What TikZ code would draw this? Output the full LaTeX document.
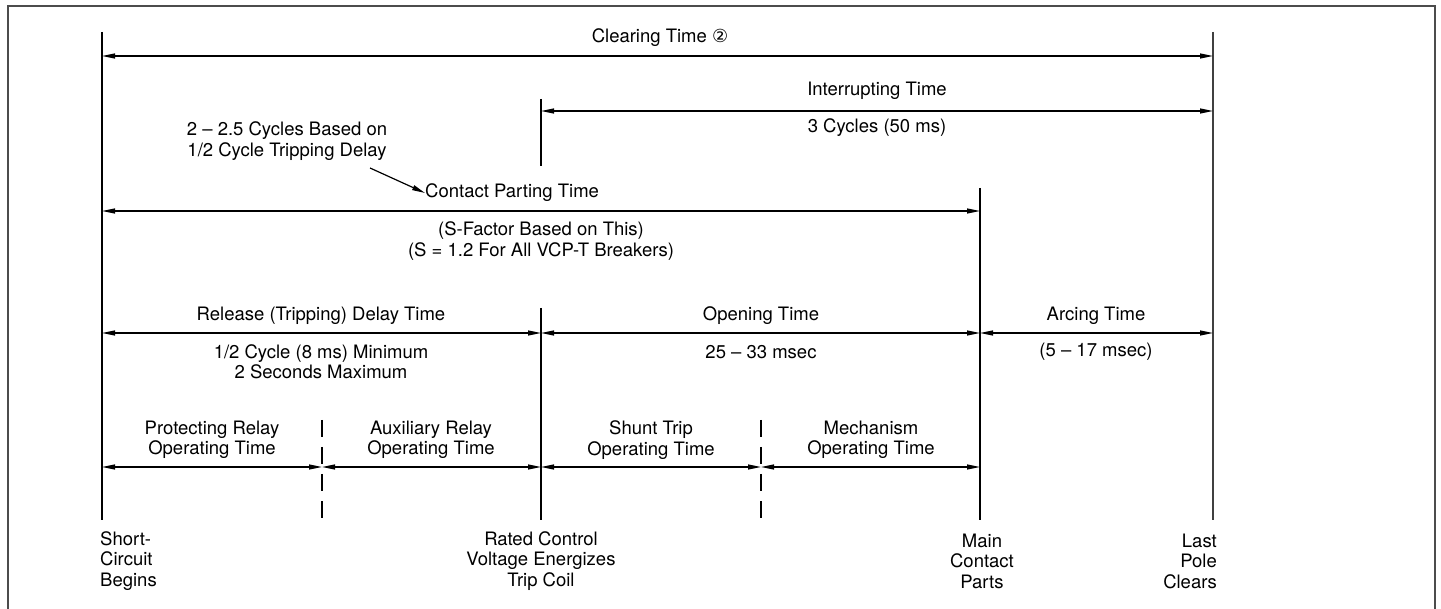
\documentclass[tikz,border=0pt]{standalone}
\usepackage{fontspec}
\setmainfont{TeX Gyre Heros}
\newfontfamily\dejavu{DejaVu Sans}
\usetikzlibrary{arrows.meta}
\begin{document}
\begin{tikzpicture}[x=1pt,y=-1pt,
  lbl/.style={inner sep=0pt, align=center, font=\fontsize{18.5}{20.5}\selectfont},
  vline/.style={line width=1.4pt, black},
  dimline/.style={line width=1.2pt, black, {Triangle[length=13pt,width=5pt]}-{Triangle[length=13pt,width=5pt]}},
  dashline/.style={line width=1.4pt, black, dash pattern=on 17pt off 10pt},
  frame/.style={line width=2pt, black!70}]
\useasboundingbox (0,0) rectangle (1441,609);
% frame
\draw[frame] (8,609) -- (8,6) -- (1435,6) -- (1435,609);
% coordinates of the vertical lines
\coordinate (Atop) at (102,32);   \coordinate (Abot) at (102,520);
\coordinate (Ctop) at (541,99);   \coordinate (Cmid) at (541,166);
\coordinate (Ctop2) at (541,308); \coordinate (Cbot) at (541,520);
\coordinate (Etop) at (980,188);  \coordinate (Ebot) at (980,520);
\coordinate (Ftop) at (1213,32);  \coordinate (Fbot) at (1213,520);
\coordinate (Btop) at (322,420);  \coordinate (Bbot) at (322,520);
\coordinate (Dtop) at (761,420);  \coordinate (Dbot) at (761,520);
\draw[vline] (Atop) -- (Abot);
\draw[vline] (Ctop) -- (Cmid);
\draw[vline] (Ctop2) -- (Cbot);
\draw[vline] (Etop) -- (Ebot);
\draw[line width=1.8pt, black!75] (Ftop) -- (Fbot);
\draw[dashline] (Btop) -- (Bbot);
\draw[dashline] (Dtop) -- (Dbot);
% dimension arrows
\coordinate (a1) at (102,56);  \coordinate (f1) at (1213,56);
\coordinate (c2) at (541,111); \coordinate (f2) at (1213,111);
\coordinate (a3) at (102,211); \coordinate (e3) at (980,211);
\coordinate (a4) at (102,333); \coordinate (c4) at (541,333);
\coordinate (e4) at (980,333); \coordinate (f4) at (1213,333);
\coordinate (a5) at (102,467); \coordinate (b5) at (322,467);
\coordinate (c5) at (541,467); \coordinate (d5) at (761,467);
\coordinate (e5) at (980,467);
\draw[dimline] (a1) -- (f1);
\draw[dimline] (c2) -- (f2);
\draw[dimline] (a3) -- (e3);
\draw[dimline] (a4) -- (c4);
\draw[dimline] (c4) -- (e4);
\draw[dimline] (e4) -- (f4);
\draw[dimline] (a5) -- (b5);
\draw[dimline] (b5) -- (c5);
\draw[dimline] (c5) -- (d5);
\draw[dimline] (d5) -- (e5);
% labels
\node[lbl] (clear) at (660,38) {Clearing Time {\dejavu\fontsize{18}{20}\selectfont ②}};
\node[lbl] (intr) at (877,91) {Interrupting Time};
\node[lbl] (intr2) at (877,128) {3 Cycles (50 ms)};
\node[lbl] (note) at (287,141) {2 – 2.5 Cycles Based on\\1/2 Cycle Tripping Delay};
\node[lbl, anchor=west] (cpt) at (425,193) {Contact Parting Time};
\coordinate (ptr) at (370,168);
\draw[line width=1.2pt, -{Triangle[length=13pt,width=5pt]}] (ptr) -- (cpt.west);
\node[lbl] (sfac) at (541,241) {(S-Factor Based on This)\\(S = 1.2 For All VCP-T Breakers)};
\node[lbl] (rel) at (321,316) {Release (Tripping) Delay Time};
\node[lbl] (rel2) at (321,362) {1/2 Cycle (8 ms) Minimum\\2 Seconds Maximum};
\node[lbl] (open) at (761,316) {Opening Time};
\node[lbl] (open2) at (761,352) {25 – 33 msec};
\node[lbl] (arc) at (1096,316) {Arcing Time};
\node[lbl] (arc2) at (1096,352) {(5 – 17 msec)};
\node[lbl] (prot) at (212,440) {Protecting Relay\\Operating Time};
\node[lbl] (aux) at (431,440) {Auxiliary Relay\\Operating Time};
\node[lbl] (shunt) at (651,440) {Shunt Trip\\Operating Time};
\node[lbl] (mech) at (871,440) {Mechanism\\Operating Time};
\node[lbl, align=left, anchor=west] (sc) at (100,561) {Short-\\Circuit\\Begins};
\node[lbl] (rcv) at (541,561) {Rated Control\\Voltage Energizes\\Trip Coil};
\node[lbl] (mcp) at (982,561) {Main\\Contact\\Parts};
\node[lbl, align=right, anchor=east] (lpc) at (1217,561) {Last\\Pole\\Clears};
\end{tikzpicture}
\end{document}
